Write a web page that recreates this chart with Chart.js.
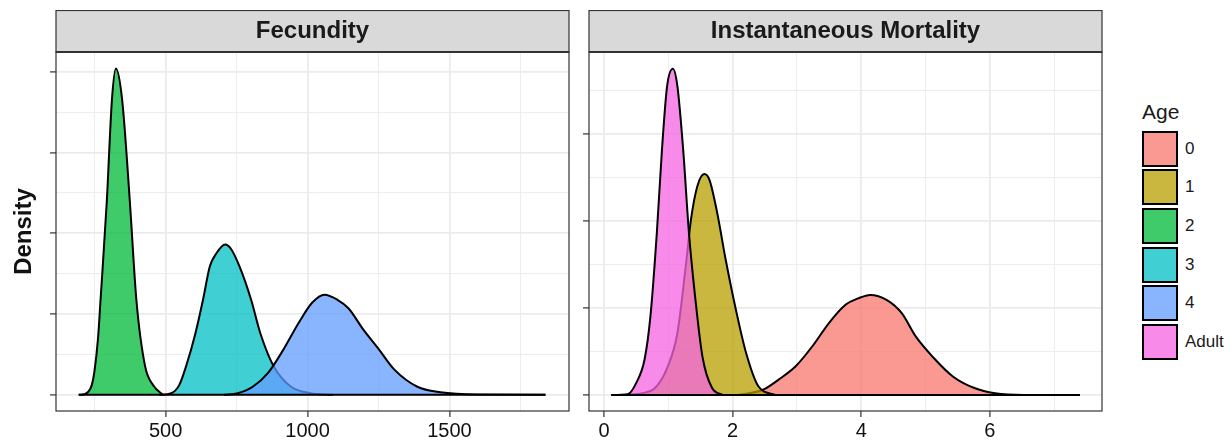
<!DOCTYPE html>
<html>
<head>
<meta charset="utf-8">
<title>Fecundity and mortality by age</title>
<script src="https://cdn.jsdelivr.net/npm/chart.js@4.4.1/dist/chart.umd.min.js"></script>
<style>
  body {
    margin: 0;
    background: #fff;
    width: 1230px;
    height: 444px;
    position: relative;
    overflow: hidden;
    font-family: "Liberation Sans", Arial, sans-serif;
  }
  #fecundity { position: absolute; left: 0; top: 10px; }
  #mortality { position: absolute; left: 575px; top: 10px; }
  .legend-title {
    position: absolute; left: 1142px; top: 101px;
    font-size: 21px; line-height: 21px; color: #1a1a1a;
  }
  .legend-key {
    position: absolute; left: 1142px; width: 36px; height: 36px;
    box-sizing: border-box; border: 2px solid #000;
  }
  .legend-label {
    position: absolute; left: 1185px; height: 36px; line-height: 36px;
    font-size: 17px; color: #1a1a1a;
  }
</style>
</head>
<body>
<canvas id="fecundity" width="572" height="434"></canvas>
<canvas id="mortality" width="530" height="434"></canvas>
<div id="legend"></div>

<script>
// Age classes and their fills (ggplot hue palette, alpha 0.75)
const ageLevels = ["0", "1", "2", "3", "4", "Adult"];
const ageFills = [
  "rgba(248,118,109,0.75)",
  "rgba(183,159,0,0.75)",
  "rgba(0,186,56,0.75)",
  "rgba(0,191,196,0.75)",
  "rgba(97,156,255,0.75)",
  "rgba(245,100,227,0.75)",
];

// Fecundity densities
const fecAge2X = [194, 214, 228, 240, 249, 262, 271, 293, 311, 325, 347, 374, 397, 428, 457, 491];
const fecAge2Y = [0, 0.00002, 0.0001, 0.0003, 0.0007, 0.00175, 0.00295, 0.006, 0.00913, 0.0101, 0.00913, 0.006, 0.00295, 0.00088, 0.00029, 0];
const fecAge3X = [478, 520, 548, 572, 605, 632, 656, 679, 710, 730, 760, 801, 834, 881, 942, 1010, 1090];
const fecAge3Y = [0, 0.00005, 0.0003, 0.00088, 0.0019, 0.00295, 0.00398, 0.00438, 0.00465, 0.00452, 0.00398, 0.00295, 0.0019, 0.00088, 0.00025, 0.00005, 0];
const fecAge4X = [706, 754, 807, 861, 915, 969, 1016, 1060, 1104, 1144, 1198, 1252, 1306, 1387, 1468, 1602, 1838];
const fecAge4Y = [0, 0.00005, 0.00025, 0.00068, 0.0014, 0.00223, 0.00285, 0.0031, 0.00295, 0.00268, 0.002, 0.0014, 0.00078, 0.00025, 0.00008, 0.00001, 0];

// Instantaneous mortality densities
const morAge0X = [2.08, 2.47, 2.72, 2.98, 3.24, 3.5, 3.76, 3.95, 4.14, 4.4, 4.63, 4.85, 5.11, 5.43, 5.76, 6.08, 6.53, 7.4];
const morAge0Y = [0, 0.03, 0.09, 0.165, 0.28, 0.415, 0.52, 0.555, 0.575, 0.545, 0.47, 0.335, 0.22, 0.105, 0.04, 0.01, 0, 0];
const morAge1X = [0.34, 0.59, 0.79, 0.98, 1.14, 1.27, 1.35, 1.45, 1.56, 1.64, 1.76, 1.89, 2.05, 2.21, 2.4, 2.66];
const morAge1Y = [0, 0.01, 0.04, 0.155, 0.355, 0.74, 1.005, 1.2, 1.27, 1.235, 1.045, 0.78, 0.49, 0.24, 0.05, 0];
const morAdultX = [0.11, 0.37, 0.5, 0.63, 0.72, 0.82, 0.9, 0.98, 1.07, 1.14, 1.23, 1.32, 1.42, 1.53, 1.68, 1.85];
const morAdultY = [0, 0.005, 0.07, 0.205, 0.45, 0.93, 1.41, 1.775, 1.875, 1.775, 1.41, 0.93, 0.55, 0.22, 0.04, 0];

// Axis breaks (labelled) and minor breaks (grid only)
const fecXBreaks = [500, 1000, 1500];
const fecXMinor = [250, 750, 1250, 1750];
const fecYBreaks = [0, 0.0025, 0.005, 0.0075, 0.01];
const fecYMinor = [0.00125, 0.00375, 0.00625, 0.00875];
const morXBreaks = [0, 2, 4, 6];
const morXMinor = [1, 3, 5, 7];
const morYBreaks = [0, 0.5, 1, 1.5];
const morYMinor = [0.25, 0.75, 1.25, 1.75];

Chart.defaults.font.family = '"Liberation Sans", Arial, sans-serif';

const toPoints = (xs, ys) => xs.map((x, i) => ({ x: x, y: ys[i] }));

function makeTicks(breaks, minor) {
  return breaks.map(v => ({ value: v, isBreak: true }))
    .concat(minor.map(v => ({ value: v, isBreak: false })))
    .sort((a, b) => a.value - b.value);
}

function densitySet(label, xs, ys, order) {
  return {
    label: label,
    data: toPoints(xs, ys),
    backgroundColor: ageFills[ageLevels.indexOf(label)],
    borderColor: "#000",
    borderWidth: 2,
    fill: "origin",
    pointRadius: 0,
    cubicInterpolationMode: "monotone",
    order: order,
  };
}

// black baseline under all curves of a panel
function baselineSet(xArrays) {
  const all = [].concat(...xArrays);
  return {
    label: "baseline",
    data: [{ x: Math.min(...all), y: 0 }, { x: Math.max(...all), y: 0 }],
    borderColor: "#000",
    borderWidth: 2,
    pointRadius: 0,
    fill: false,
    order: 0,
  };
}

const gridStyle = {
  color: "#EBEBEB",
  lineWidth: c => (c.tick && c.tick.isBreak ? 1.8 : 0.9),
  tickColor: c => (c.tick && c.tick.isBreak ? "#333333" : "rgba(0,0,0,0)"),
  tickWidth: 1.2,
  tickLength: 6,
};

// grey strip with the facet title + dark panel border
const facetFrame = {
  id: "facetFrame",
  beforeDraw(chart) {
    const { ctx, chartArea: a } = chart;
    ctx.save();
    ctx.fillStyle = "#D9D9D9";
    ctx.fillRect(a.left, 0.5, a.right - a.left, a.top - 0.5);
    ctx.strokeStyle = "#333333";
    ctx.lineWidth = 1.2;
    ctx.strokeRect(a.left, 0.5, a.right - a.left, a.top - 0.5);
    ctx.restore();
  },
  afterDraw(chart) {
    const { ctx, chartArea: a } = chart;
    ctx.save();
    ctx.strokeStyle = "#333333";
    ctx.lineWidth = 1.2;
    ctx.strokeRect(a.left, a.top, a.right - a.left, a.bottom - a.top);
    ctx.beginPath();
    ctx.lineWidth = 2;
    ctx.moveTo(a.left, a.top);
    ctx.lineTo(a.right, a.top);
    ctx.stroke();
    ctx.restore();
  },
};

function panelOptions(opts) {
  return {
    responsive: false,
    animation: false,
    layout: { padding: { left: 0, right: 3, top: 0, bottom: 0 } },
    plugins: {
      legend: { display: false },
      tooltip: { enabled: false },
      title: {
        display: true,
        text: opts.title,
        fullSize: false,
        color: "#1a1a1a",
        font: { size: 24, weight: "bold", lineHeight: 1 },
        padding: { top: 9, bottom: 9 },
      },
    },
    scales: {
      x: {
        type: "linear",
        min: opts.xMin,
        max: opts.xMax,
        border: { display: false },
        grid: gridStyle,
        afterBuildTicks: axis => { axis.ticks = makeTicks(opts.xBreaks, opts.xMinor); },
        afterFit: axis => { axis.height = 33; },
        ticks: {
          autoSkip: false,
          maxRotation: 0,
          padding: 2,
          color: "#111",
          font: { size: 20 },
          callback: (value, i, ticks) => (ticks[i].isBreak ? String(value) : ""),
        },
      },
      y: {
        type: "linear",
        min: opts.yMin,
        max: opts.yMax,
        border: { display: false },
        grid: gridStyle,
        afterBuildTicks: axis => { axis.ticks = makeTicks(opts.yBreaks, opts.yMinor); },
        afterFit: axis => { axis.width = opts.yWidth; },
        ticks: { display: false },
        title: {
          display: !!opts.yTitle,
          text: opts.yTitle || "",
          color: "#111",
          font: { size: 24, weight: "bold" },
          padding: { top: 9.6, bottom: 0 },
        },
      },
    },
  };
}

new Chart(document.getElementById("fecundity"), {
  type: "line",
  data: {
    datasets: [
      densitySet("2", fecAge2X, fecAge2Y, 3),
      densitySet("3", fecAge3X, fecAge3Y, 2),
      densitySet("4", fecAge4X, fecAge4Y, 1),
      baselineSet([fecAge2X, fecAge3X, fecAge4X]),
    ],
  },
  options: panelOptions({
    title: "Fecundity",
    xMin: 114, xMax: 1921, xBreaks: fecXBreaks, xMinor: fecXMinor,
    yMin: -0.0005, yMax: 0.01061, yBreaks: fecYBreaks, yMinor: fecYMinor,
    yWidth: 56, yTitle: "Density",
  }),
  plugins: [facetFrame],
});

new Chart(document.getElementById("mortality"), {
  type: "line",
  data: {
    datasets: [
      densitySet("0", morAge0X, morAge0Y, 3),
      densitySet("1", morAge1X, morAge1Y, 2),
      densitySet("Adult", morAdultX, morAdultY, 1),
      baselineSet([morAge0X, morAge1X, morAdultX]),
    ],
  },
  options: panelOptions({
    title: "Instantaneous Mortality",
    xMin: -0.235, xMax: 7.745, xBreaks: morXBreaks, xMinor: morXMinor,
    yMin: -0.092, yMax: 1.971, yBreaks: morYBreaks, yMinor: morYMinor,
    yWidth: 14,
  }),
  plugins: [facetFrame],
});

// Age legend
const legend = document.getElementById("legend");
const legendTitle = document.createElement("div");
legendTitle.className = "legend-title";
legendTitle.textContent = "Age";
legend.appendChild(legendTitle);
ageLevels.forEach((age, i) => {
  const top = 130.7 + i * 38.6;
  const key = document.createElement("div");
  key.className = "legend-key";
  key.style.top = top + "px";
  key.style.background = ageFills[i];
  legend.appendChild(key);
  const label = document.createElement("div");
  label.className = "legend-label";
  label.style.top = top + "px";
  label.textContent = age;
  legend.appendChild(label);
});
</script>
</body>
</html>
